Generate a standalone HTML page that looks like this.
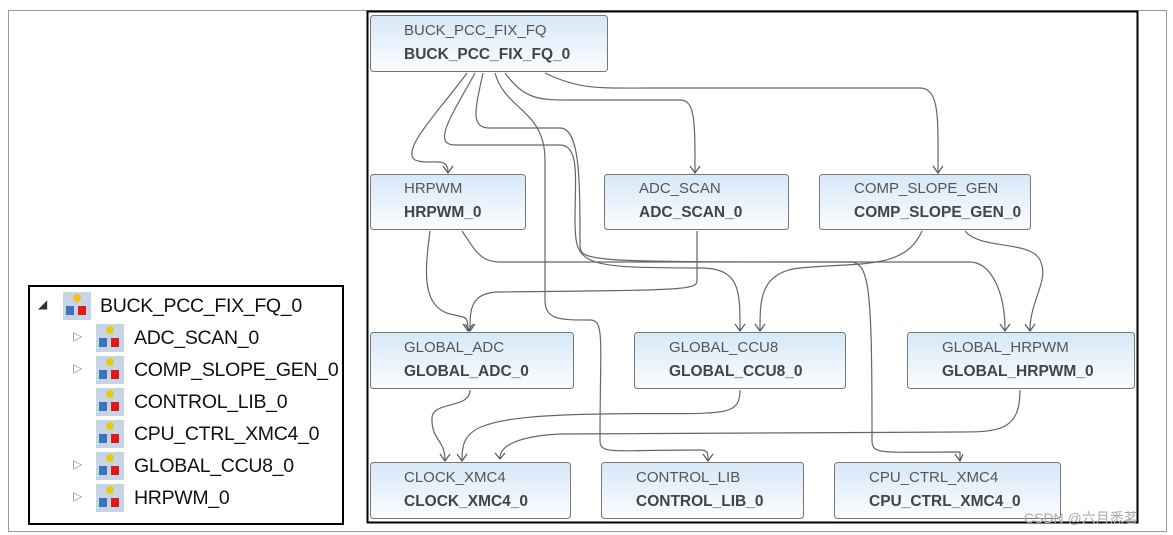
<!DOCTYPE html>
<html><head><meta charset="utf-8"><style>
body{margin:0;width:1173px;height:535px;background:#fff;overflow:hidden;font-family:"Liberation Sans",sans-serif}
.tree{position:absolute;left:28px;top:285px;width:316px;height:240px;border:2px solid #000;box-sizing:border-box}
.row{position:absolute;height:30px;font-size:19.5px;color:#111;line-height:30px;letter-spacing:-0.3px}
.ic{position:absolute;width:28px;height:28px;background:#c6d4e6}
.ic:before{content:"";position:absolute;left:10px;top:2px;width:8px;height:8px;border-radius:4px;background:#f3c21c}
.ic:after{content:"";position:absolute;left:3px;top:14px;width:8px;height:9px;background:#3f73b8;box-shadow:12px 0 0 #e01818}
.tri{position:absolute;font-size:12px;color:#888}
</style></head><body>
<div style="position:absolute;left:8px;top:10px;width:1157px;height:520px;border:1px solid #999"></div>
<div class="tree">
<div class="tri" style="left:8px;top:10px;color:#333">◢</div>
<div class="ic" style="left:33px;top:5px"></div><div class="row" style="left:70px;top:4px">BUCK_PCC_FIX_FQ_0</div>
<div class="tri" style="left:43px;top:42px">▷</div><div class="ic" style="left:66px;top:37px"></div><div class="row" style="left:104px;top:36px">ADC_SCAN_0</div>
<div class="tri" style="left:43px;top:74px">▷</div><div class="ic" style="left:66px;top:69px"></div><div class="row" style="left:104px;top:68px">COMP_SLOPE_GEN_0</div>
<div class="ic" style="left:66px;top:101px"></div><div class="row" style="left:104px;top:100px">CONTROL_LIB_0</div>
<div class="ic" style="left:66px;top:133px"></div><div class="row" style="left:104px;top:132px">CPU_CTRL_XMC4_0</div>
<div class="tri" style="left:43px;top:170px">▷</div><div class="ic" style="left:66px;top:165px"></div><div class="row" style="left:104px;top:164px">GLOBAL_CCU8_0</div>
<div class="tri" style="left:43px;top:202px">▷</div><div class="ic" style="left:66px;top:197px"></div><div class="row" style="left:104px;top:196px">HRPWM_0</div>
</div>
<svg width="1173" height="535" style="position:absolute;left:0;top:0" font-family="Liberation Sans,sans-serif">
<defs><linearGradient id="g" x1="0" y1="0" x2="0" y2="1"><stop offset="0" stop-color="#d6e8f8"/><stop offset="1" stop-color="#fbfdff"/></linearGradient></defs>
<rect x="367.5" y="11.5" width="770" height="511" fill="none" stroke="#000" stroke-width="2"/>
<g fill="none" stroke="#666" stroke-width="1.2">
<path d="M467,73 C440,110 400,150 415,160 C430,166 448,155 448,172"/>
<path d="M475,73 C455,110 430,145 455,145 L560,145 C580,145 575,180 575,220 C575,265 580,268 700,268 C740,268 740,290 740,330"/>
<path d="M483,73 C475,110 470,128 490,128 L560,128 C580,128 580,180 580,245 C580,262 590,262 850,262 C870,262 872,290 872,440 C872,455 880,452 960,452 L960,460"/>
<path d="M495,73 C505,110 545,110 545,160 L545,300 C545,320 560,320 590,320 C605,320 600,340 600,440 C600,455 610,450 700,450 C707,450 708,452 708,460"/>
<path d="M505,73 C525,100 540,100 570,100 L680,100 C695,100 695,120 695,172"/>
<path d="M545,73 C580,90 600,88 650,88 L920,88 C940,88 938,120 938,172"/>
<path d="M430,231 C425,270 420,310 455,315 C465,318 468,315 468,330"/>
<path d="M462,231 C475,250 480,262 500,262 L970,262 C990,262 1005,290 1005,330"/>
<path d="M697,231 L697,280 C697,290 690,290 500,292 C470,292 470,310 470,330"/>
<path d="M922,231 C905,270 860,262 800,268 C760,272 760,300 760,330"/>
<path d="M965,231 C980,250 1030,240 1040,260 C1050,280 1030,300 1030,330"/>
<path d="M470,390 C470,410 430,400 432,420 C432,440 445,440 445,460"/>
<path d="M740,390 C740,420 720,412 600,414 C470,416 462,430 462,460"/>
<path d="M1020,390 C1020,430 1000,432 960,432 L560,434 C520,436 500,445 500,458"/>
</g>
<g fill="none" stroke="#555" stroke-width="1.2">
<path d="M443,166 L448,173 L453,166M963,454 L960,461 L955,454M703,454 L708,461 L713,454M690,166 L695,173 L700,166M933,166 L938,173 L943,166M463,324 L468,331 L473,324M735,324 L740,331 L745,324M1000,324 L1005,331 L1010,324M465,324 L470,331 L475,324M755,324 L760,331 L765,324M1025,324 L1030,331 L1035,324M440,454 L445,461 L450,454M457,454 L462,461 L467,454M495,453 L500,459 L505,453"/>
</g>
<g font-size="15" fill="#555">
<g><rect x="370.5" y="15.5" width="237" height="56" rx="3" fill="url(#g)" stroke="#777"/><text x="404" y="35">BUCK_PCC_FIX_FQ</text><text x="404" y="59" font-size="15.5" font-weight="bold" fill="#444">BUCK_PCC_FIX_FQ_0</text></g>
<g><rect x="370.5" y="174.5" width="155" height="55" rx="3" fill="url(#g)" stroke="#777"/><text x="404" y="193">HRPWM</text><text x="404" y="217" font-size="15.5" font-weight="bold" fill="#444">HRPWM_0</text></g>
<g><rect x="604.5" y="174.5" width="184" height="55" rx="3" fill="url(#g)" stroke="#777"/><text x="639" y="193">ADC_SCAN</text><text x="639" y="217" font-size="15.5" font-weight="bold" fill="#444">ADC_SCAN_0</text></g>
<g><rect x="819.5" y="174.5" width="211" height="55" rx="3" fill="url(#g)" stroke="#777"/><text x="854" y="193">COMP_SLOPE_GEN</text><text x="854" y="217" font-size="15.5" font-weight="bold" fill="#444">COMP_SLOPE_GEN_0</text></g>
<g><rect x="370.5" y="332.5" width="203" height="56" rx="3" fill="url(#g)" stroke="#777"/><text x="404" y="352">GLOBAL_ADC</text><text x="404" y="376" font-size="15.5" font-weight="bold" fill="#444">GLOBAL_ADC_0</text></g>
<g><rect x="634.5" y="332.5" width="211" height="56" rx="3" fill="url(#g)" stroke="#777"/><text x="669" y="352">GLOBAL_CCU8</text><text x="669" y="376" font-size="15.5" font-weight="bold" fill="#444">GLOBAL_CCU8_0</text></g>
<g><rect x="907.5" y="332.5" width="227" height="56" rx="3" fill="url(#g)" stroke="#777"/><text x="942" y="352">GLOBAL_HRPWM</text><text x="942" y="376" font-size="15.5" font-weight="bold" fill="#444">GLOBAL_HRPWM_0</text></g>
<g><rect x="370.5" y="462.5" width="200" height="56" rx="3" fill="url(#g)" stroke="#777"/><text x="404" y="482">CLOCK_XMC4</text><text x="404" y="506" font-size="15.5" font-weight="bold" fill="#444">CLOCK_XMC4_0</text></g>
<g><rect x="601.5" y="462.5" width="202" height="56" rx="3" fill="url(#g)" stroke="#777"/><text x="636" y="482">CONTROL_LIB</text><text x="636" y="506" font-size="15.5" font-weight="bold" fill="#444">CONTROL_LIB_0</text></g>
<g><rect x="834.5" y="462.5" width="226" height="56" rx="3" fill="url(#g)" stroke="#777"/><text x="869" y="482">CPU_CTRL_XMC4</text><text x="869" y="506" font-size="15.5" font-weight="bold" fill="#444">CPU_CTRL_XMC4_0</text></g>
</g>
<text x="1024" y="523" font-size="14" fill="#aaa" font-family="Liberation Sans,Noto Sans CJK SC,sans-serif">CSDN @六月悉茗</text>
</svg>
</body></html>
